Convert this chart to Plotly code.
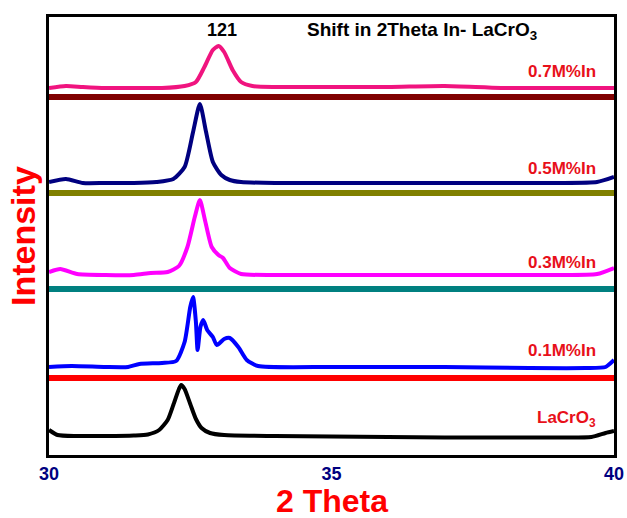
import plotly.graph_objects as go

# ---- data (2-theta, intensity in arbitrary stacked units) ----
x_lacro3 = [30.0, 30.15, 30.5, 31.0, 31.5, 31.75, 31.95, 32.1, 32.2, 32.3, 32.34, 32.4, 32.5, 32.6, 32.7, 32.85, 33.1, 34.0, 35.0, 36.0, 37.0, 38.0, 39.0, 39.6, 39.85, 40.0]
y_lacro3 = [22, 17, 16, 16, 16.5, 17.5, 22, 32, 47, 63, 67, 63, 48, 33, 24, 19, 17, 16, 15.5, 15, 14.5, 14.5, 14.5, 15, 19, 21]

x_01 = [30.0, 30.4, 31.0, 31.4, 31.6, 32.0, 32.25, 32.4, 32.5, 32.55, 32.6, 32.63, 32.68, 32.73, 32.8, 32.9, 32.97, 33.1, 33.2, 33.35, 33.5, 33.7, 35.0, 37.0, 38.5, 39.5, 39.85, 40.0]
y_01 = [85, 86, 85, 85, 88, 89, 91, 110, 145, 155, 130, 102, 125, 132, 122, 115, 107, 113, 114, 105, 92, 86, 85, 85, 84, 84, 85, 92]

x_03 = [30.0, 30.2, 30.5, 31.0, 31.5, 31.8, 32.1, 32.3, 32.45, 32.58, 32.67, 32.76, 32.88, 33.0, 33.08, 33.2, 33.4, 34.0, 35.0, 36.0, 37.0, 38.0, 39.0, 39.7, 40.0]
y_03 = [180, 183, 178, 177, 177, 179, 180, 186, 205, 235, 252, 232, 205, 197, 194, 184, 178, 177, 177, 177, 177, 177, 177, 178, 184]

x_05 = [30.0, 30.3, 30.6, 31.0, 31.5, 31.9, 32.2, 32.4, 32.55, 32.67, 32.78, 32.9, 33.05, 33.2, 33.4, 34.0, 35.0, 36.0, 37.0, 38.0, 39.0, 39.7, 40.0]
y_05 = [270, 273, 269, 269, 269, 270, 273, 285, 320, 348, 320, 290, 277, 272, 270, 269, 269, 269, 269, 269, 269, 270, 275]

x_07 = [30.0, 30.3, 30.6, 31.0, 31.5, 32.0, 32.4, 32.6, 32.75, 32.9, 33.0, 33.1, 33.25, 33.4, 33.6, 34.0, 35.0, 36.0, 37.0, 38.0, 39.0, 40.0]
y_07 = [364, 366, 365, 364, 364, 364, 366, 370, 385, 402, 406, 400, 382, 370, 366, 365, 365, 365, 366, 364, 364, 364]

series_x = [x_lacro3, x_01, x_03, x_05, x_07]
series_y = [y_lacro3, y_01, y_03, y_05, y_07]
series_names = ["LaCrO<sub>3</sub>", "0.1M%In", "0.3M%In", "0.5M%In", "0.7M%In"]
series_colors = ["#000000", "#0000ff", "#ff00ff", "#000080", "#f0147f"]
label_y = [33, 102, 190, 284, 381]

sep_y = [74, 163, 259, 355]
sep_colors = ["#ff0000", "#008080", "#808000", "#800000"]

x_ticks = [30, 35, 40]
x_range = [30, 40]
y_range = [-3, 435]

FONT = "Liberation Sans, Arial"

fig = go.Figure()

for yv, c in zip(sep_y, sep_colors):
    fig.add_trace(go.Scatter(x=x_range, y=[yv, yv], mode="lines",
                             line=dict(color=c, width=6), showlegend=False, hoverinfo="skip"))

for xs, ys, c in zip(series_x, series_y, series_colors):
    fig.add_trace(go.Scatter(x=xs, y=ys, mode="lines",
                             line=dict(color=c, width=4, shape="spline", smoothing=0.6),
                             showlegend=False))

for name, ly in zip(series_names, label_y):
    fig.add_annotation(x=39.72, y=ly, text="<b>" + name + "</b>", showarrow=False,
                       xanchor="right", yanchor="middle",
                       font=dict(family=FONT, size=17, color="#e8101a"))

fig.add_annotation(x=33.06, y=422, text="<b>121</b>", showarrow=False,
                   font=dict(family=FONT, size=18, color="#000000"))
fig.add_annotation(x=36.6, y=421, text="<b>Shift in 2Theta In- LaCrO<sub>3</sub></b>", showarrow=False,
                   font=dict(family=FONT, size=19, color="#000000"))

# axis titles as annotations
fig.add_annotation(xref="paper", yref="paper", x=0.5, y=0, yshift=-46, yanchor="middle",
                   text="<b>2 Theta</b>", showarrow=False,
                   font=dict(family=FONT, size=32, color="#ff0000"))
fig.add_annotation(xref="paper", yref="paper", x=0, y=0.5, xshift=-26, xanchor="center",
                   textangle=-90, text="<b>Intensity</b>", showarrow=False,
                   font=dict(family=FONT, size=34, color="#ff0000"))

fig.update_layout(
    width=627, height=518,
    margin=dict(l=49, r=13, t=17, b=63),
    paper_bgcolor="white", plot_bgcolor="white",
    xaxis=dict(range=x_range, tickvals=x_ticks, ticktext=["<b>%d</b>" % t for t in x_ticks],
               showgrid=False, zeroline=False, showline=True, linecolor="black", linewidth=3,
               mirror=True, ticks="", automargin=False,
               tickfont=dict(family=FONT, size=18, color="#000080")),
    yaxis=dict(range=y_range, showticklabels=False, showgrid=False, zeroline=False,
               showline=True, linecolor="black", linewidth=3, mirror=True, ticks="",
               automargin=False),
)

fig.write_html("out.html", config={"displayModeBar": False},
               post_script="document.body.style.margin='0';")
